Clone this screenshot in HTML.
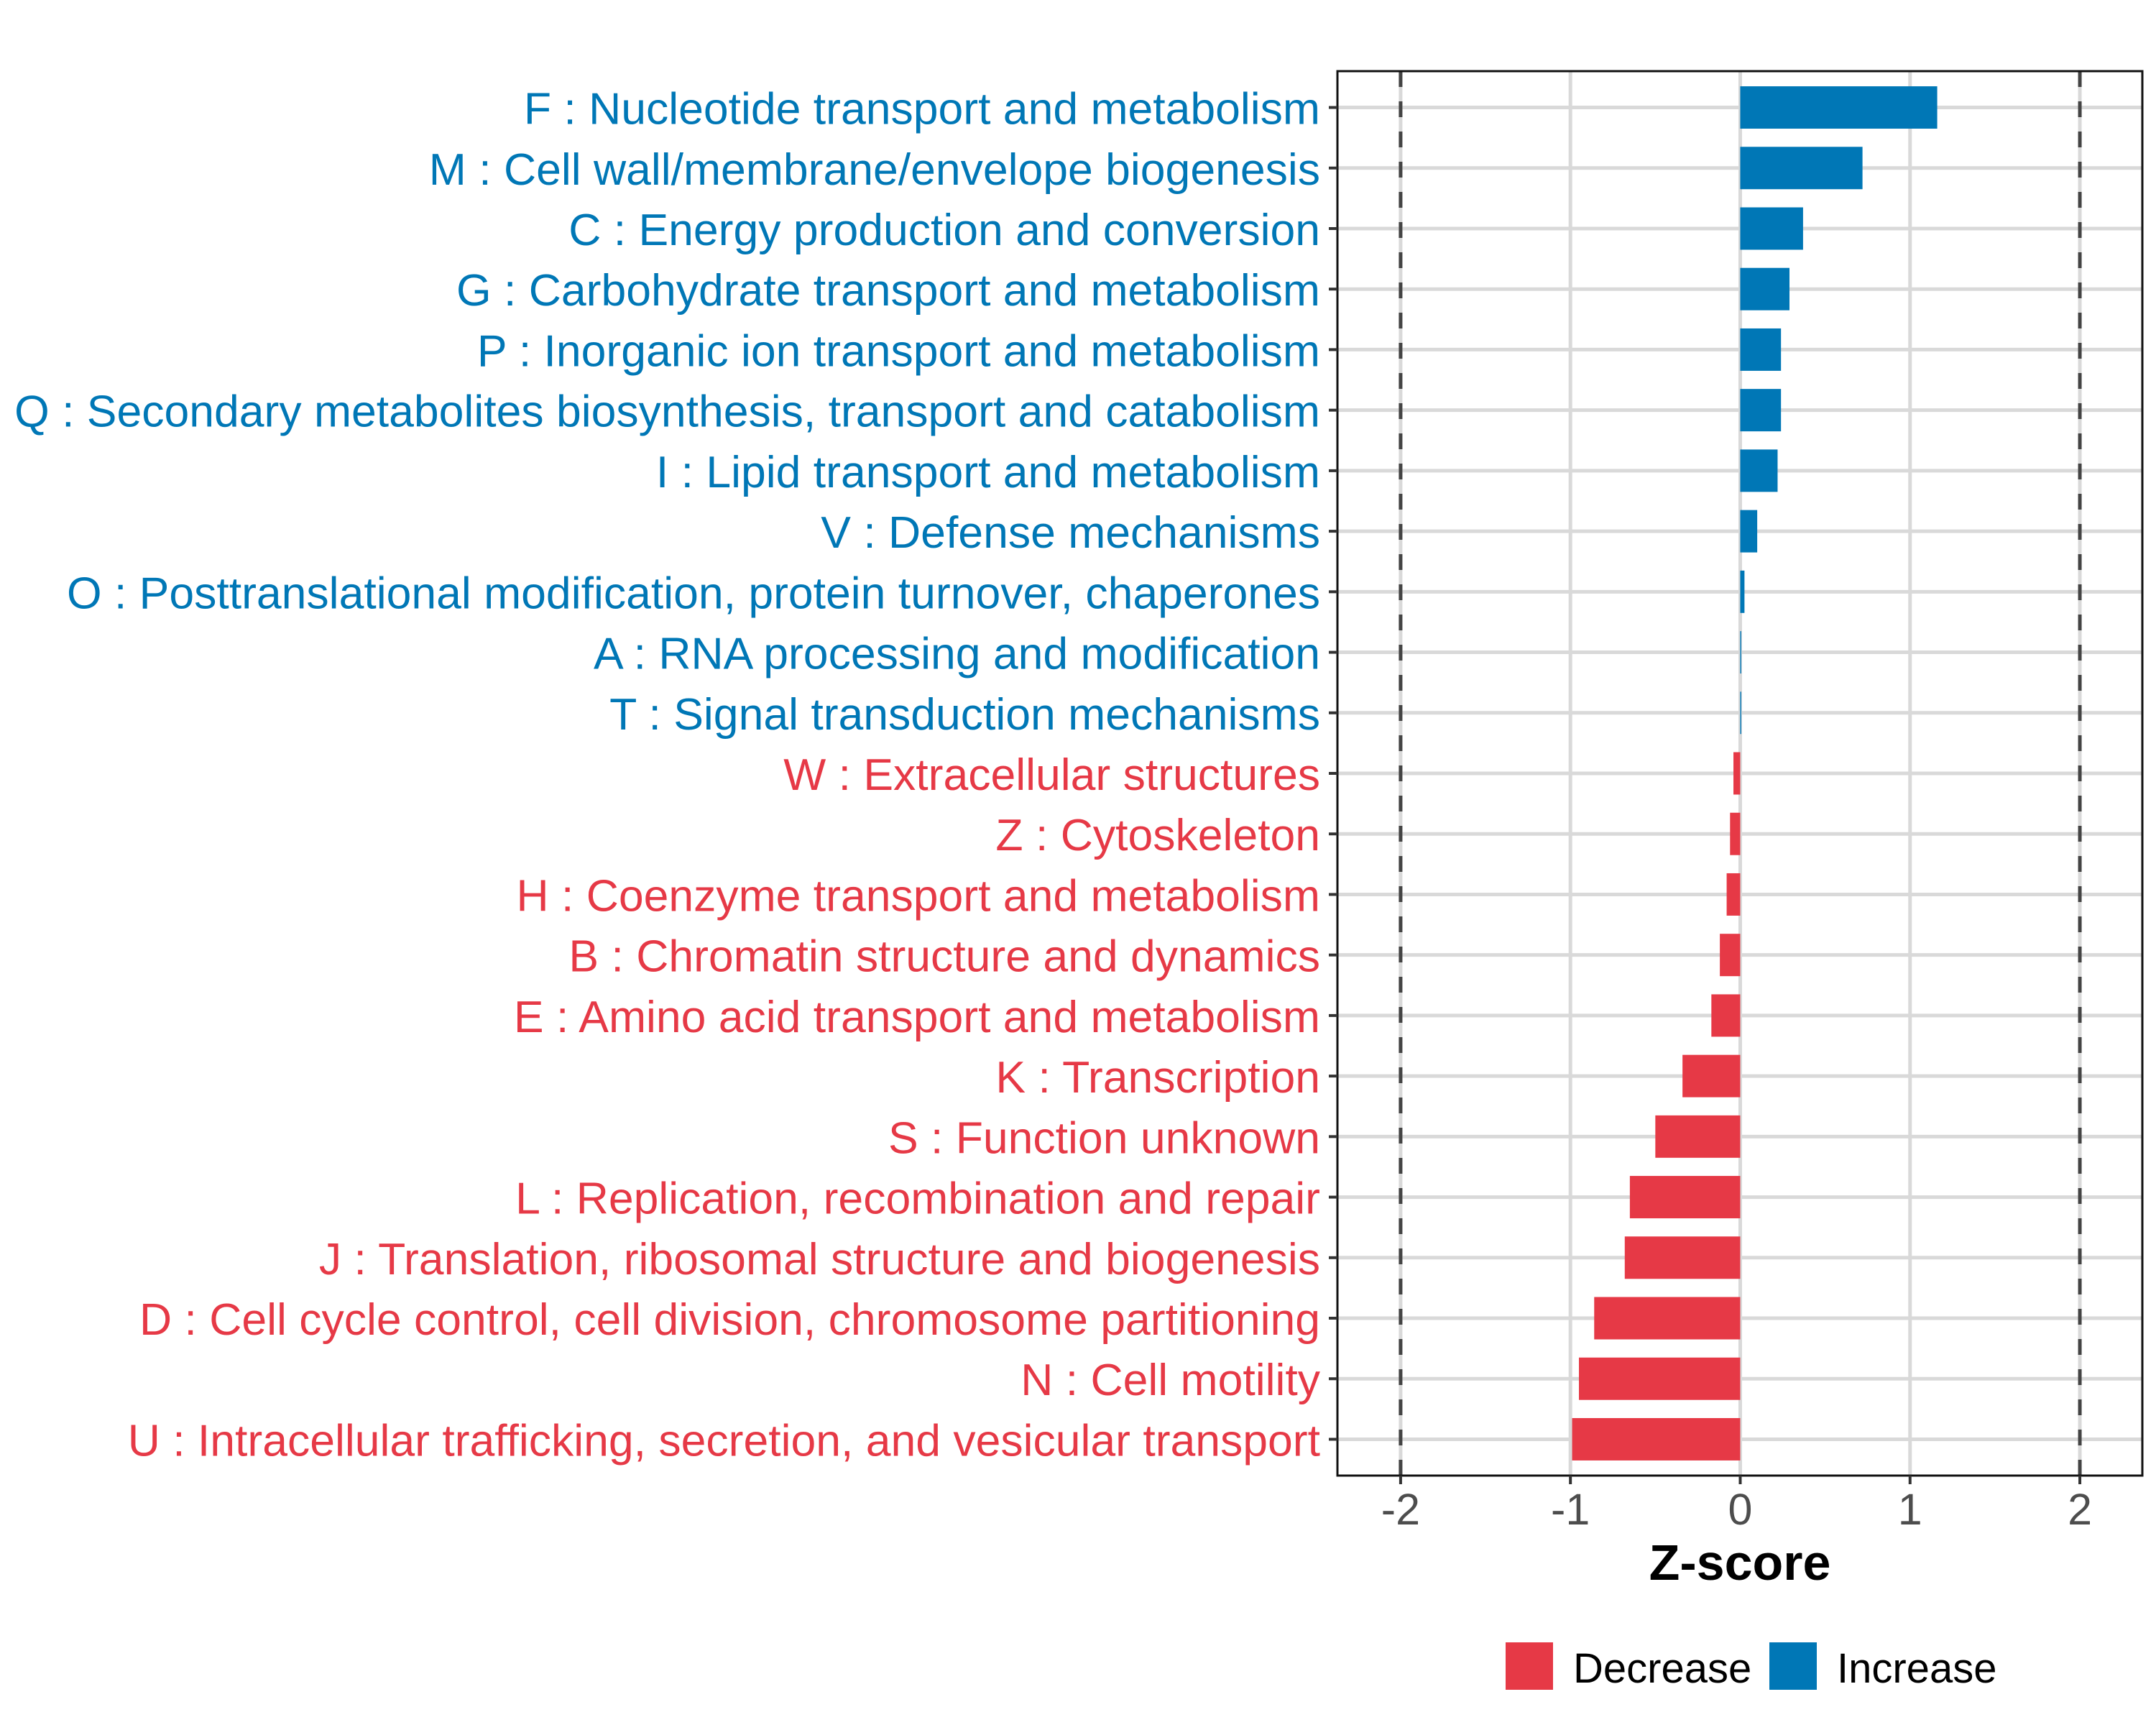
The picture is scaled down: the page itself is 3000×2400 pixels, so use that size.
<!DOCTYPE html>
<html><head><meta charset="utf-8"><style>
html,body{margin:0;padding:0;background:#fff;}
svg{display:block;font-family:"Liberation Sans",Arial,sans-serif;}
</style></head><body>
<svg id="chart" width="3000" height="2400" viewBox="0 0 3000 2400" xmlns="http://www.w3.org/2000/svg">
<rect width="3000" height="2400" fill="#fff"/>
<g id="grid"></g>
<g id="bars"></g>
<g id="labels"></g>
<g id="xaxis"></g>
<text x="2421" y="2198" text-anchor="middle" font-size="70" font-weight="bold" fill="#000">Z-score</text>
<g>
<rect x="2095" y="2285" width="66" height="66" fill="#E63946"/>
<text x="2189" y="2341" font-size="58" fill="#000">Decrease</text>
<rect x="2462" y="2285" width="66" height="66" fill="#0077B6"/>
<text x="2556" y="2341" font-size="58" fill="#000">Increase</text>
</g>
</svg>
<script>
const categories = [
"F : Nucleotide transport and metabolism",
"M : Cell wall/membrane/envelope biogenesis",
"C : Energy production and conversion",
"G : Carbohydrate transport and metabolism",
"P : Inorganic ion transport and metabolism",
"Q : Secondary metabolites biosynthesis, transport and catabolism",
"I : Lipid transport and metabolism",
"V : Defense mechanisms",
"O : Posttranslational modification, protein turnover, chaperones",
"A : RNA processing and modification",
"T : Signal transduction mechanisms",
"W : Extracellular structures",
"Z : Cytoskeleton",
"H : Coenzyme transport and metabolism",
"B : Chromatin structure and dynamics",
"E : Amino acid transport and metabolism",
"K : Transcription",
"S : Function unknown",
"L : Replication, recombination and repair",
"J : Translation, ribosomal structure and biogenesis",
"D : Cell cycle control, cell division, chromosome partitioning",
"N : Cell motility",
"U : Intracellular trafficking, secretion, and vesicular transport"
];
const zscores = [1.16,0.72,0.37,0.29,0.24,0.24,0.22,0.10,0.025,0.006,0.006,-0.04,-0.06,-0.08,-0.12,-0.17,-0.34,-0.50,-0.65,-0.68,-0.86,-0.95,-0.99];
const xTicks = [-2,-1,0,1,2];
const xTickLabels = ["-2","-1","0","1","2"];
const refLines = [-2,2];

const NS="http://www.w3.org/2000/svg";
const L=1861,R=2981,T=99,B=2053;
const xMin=-2.372,xMax=2.368;
const xs=v=>L+(v-xMin)/(xMax-xMin)*(R-L);
const n=categories.length;
const step=(B-T)/(n-1+1.2);
const ys=i=>T+step*(0.6+i);
function mk(tag,attrs,parent){const e=document.createElementNS(NS,tag);for(const k in attrs)e.setAttribute(k,attrs[k]);parent.appendChild(e);return e;}
const grid=document.getElementById('grid'),bars=document.getElementById('bars'),labs=document.getElementById('labels'),xa=document.getElementById('xaxis');
xTicks.forEach((t,i)=>{
  const g=mk('line',{x1:xs(t),x2:xs(t),y1:T,y2:B,stroke:'#d9d9d9','stroke-width':5},grid);
  
  
});
categories.forEach((c,i)=>{
  const g=mk('line',{x1:L,x2:R,y1:ys(i),y2:ys(i),stroke:'#d9d9d9','stroke-width':5},grid);
  
  
});
const bh=step*0.7;
zscores.forEach((v,i)=>{
  const x0=xs(Math.min(0,v)),x1=xs(Math.max(0,v));
  const r=mk('rect',{x:x0,y:ys(i)-bh/2,width:Math.max(x1-x0,1),height:bh,fill:v>=0?'#0077B6':'#E63946'},bars);
  
  
});
refLines.forEach(v=>{
  const l=mk('line',{x1:xs(v),x2:xs(v),y1:T,y2:B,stroke:'#444','stroke-width':5,'stroke-dasharray':'22 20'},bars);
  
  
});
const fr=mk('rect',{x:L,y:T,width:R-L,height:B-T,fill:'none',stroke:'#111','stroke-width':3},bars);


categories.forEach((c,i)=>{
  const tk=mk('line',{x1:L-12,x2:L,y1:ys(i),y2:ys(i),stroke:'#333','stroke-width':4},labs);
  
  
  const t=mk('text',{x:1837,y:ys(i)+23,'text-anchor':'end','font-size':62.5,fill:zscores[i]>=0?'#0077B6':'#E63946'},labs);
  t.textContent=c;
  
  
});
xTicks.forEach((v,i)=>{
  const tk=mk('line',{x1:xs(v),x2:xs(v),y1:B,y2:B+12,stroke:'#333','stroke-width':4},xa);
  
  
  const t=mk('text',{x:xs(v),y:2121,'text-anchor':'middle','font-size':61,fill:'#4d4d4d'},xa);
  t.textContent=xTickLabels[i];
  
  
});
</script>
</body></html>
